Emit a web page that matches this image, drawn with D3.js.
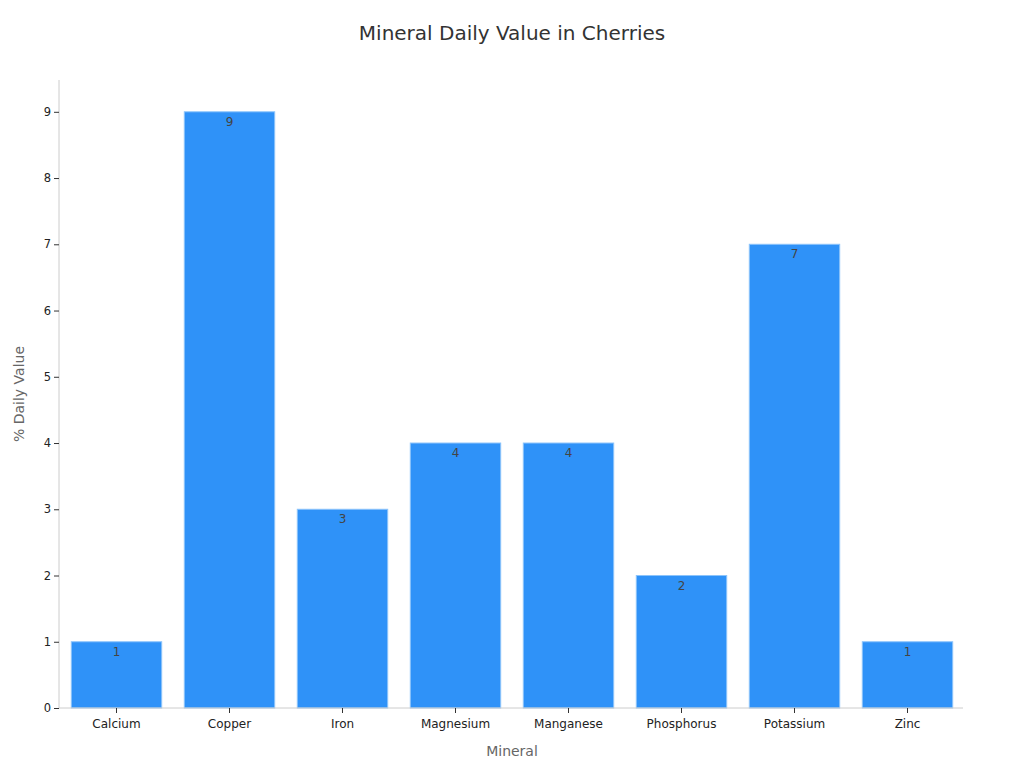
<!DOCTYPE html>
<html><head><meta charset="utf-8">
<script src="https://cdn.jsdelivr.net/npm/d3@7"></script>
<style>body{margin:0;background:#fff}svg{display:block;font-family:"DejaVu Sans",sans-serif}</style>
</head><body><svg id="c" width="1024" height="768"></svg>
<script>
const categories = ["Calcium","Copper","Iron","Magnesium","Manganese","Phosphorus","Potassium","Zinc"];
const values = [1,9,3,4,4,2,7,1];
const yTicks = [0,1,2,3,4,5,6,7,8,9];

const svg = d3.select("#c");
const m = {l:59, r:61, t:80, b:60};
const W = 1024, H = 768;
const x = d3.scaleBand().domain(categories).range([m.l+1, W-m.r+1]).paddingInner(0.2).paddingOuter(0.1);
const y = d3.scaleLinear().domain([0, 9.48]).range([H-m.b, m.t]);

svg.append("text").attr("x",512).attr("y",40).attr("text-anchor","middle")
  .attr("font-size",20).attr("fill","#333").text("Mineral Daily Value in Cherries");

svg.selectAll("rect.bar").data(values).join("rect").attr("class","bar")
  .attr("x",(d,i)=>x(categories[i])).attr("width",x.bandwidth())
  .attr("y",d=>y(d)).attr("height",d=>y(0)-y(d))
  .attr("fill","#2f92f8").attr("stroke","#8cc4fb").attr("stroke-width",1);

svg.selectAll("text.lbl").data(values).join("text").attr("class","lbl")
  .attr("x",(d,i)=>x(categories[i])+x.bandwidth()/2).attr("y",d=>y(d)+14)
  .attr("text-anchor","middle").attr("font-size",12).attr("fill","#444").text(d=>d);

const yAxis = svg.append("g").attr("transform",`translate(${m.l},0)`)
  .call(d3.axisLeft(y).tickValues(yTicks).tickSize(5).tickPadding(3).tickFormat(d3.format("d")));
yAxis.select(".domain").attr("stroke","#ccc").attr("d",`M0,${m.t}V${H-m.b}`);
yAxis.selectAll(".tick line").attr("stroke","#333");
yAxis.selectAll(".tick text").attr("font-size",11.5).attr("fill","#222").attr("font-family","DejaVu Sans");

const xAxis = svg.append("g").attr("transform",`translate(0,${H-m.b})`)
  .call(d3.axisBottom(x).tickSize(5).tickPadding(6));
xAxis.select(".domain").attr("stroke","#ccc").attr("d",`M${m.l},0H${W-m.r}`);
xAxis.selectAll(".tick line").attr("stroke","#333");
xAxis.selectAll(".tick text").attr("font-size",12).attr("fill","#222").attr("font-family","DejaVu Sans");

svg.append("text").attr("x",512).attr("y",756).attr("text-anchor","middle")
  .attr("font-size",14).attr("fill","#666").text("Mineral");
svg.append("text").attr("transform","translate(24,394) rotate(-90)").attr("text-anchor","middle")
  .attr("font-size",14).attr("fill","#666").text("% Daily Value");
</script></body></html>
